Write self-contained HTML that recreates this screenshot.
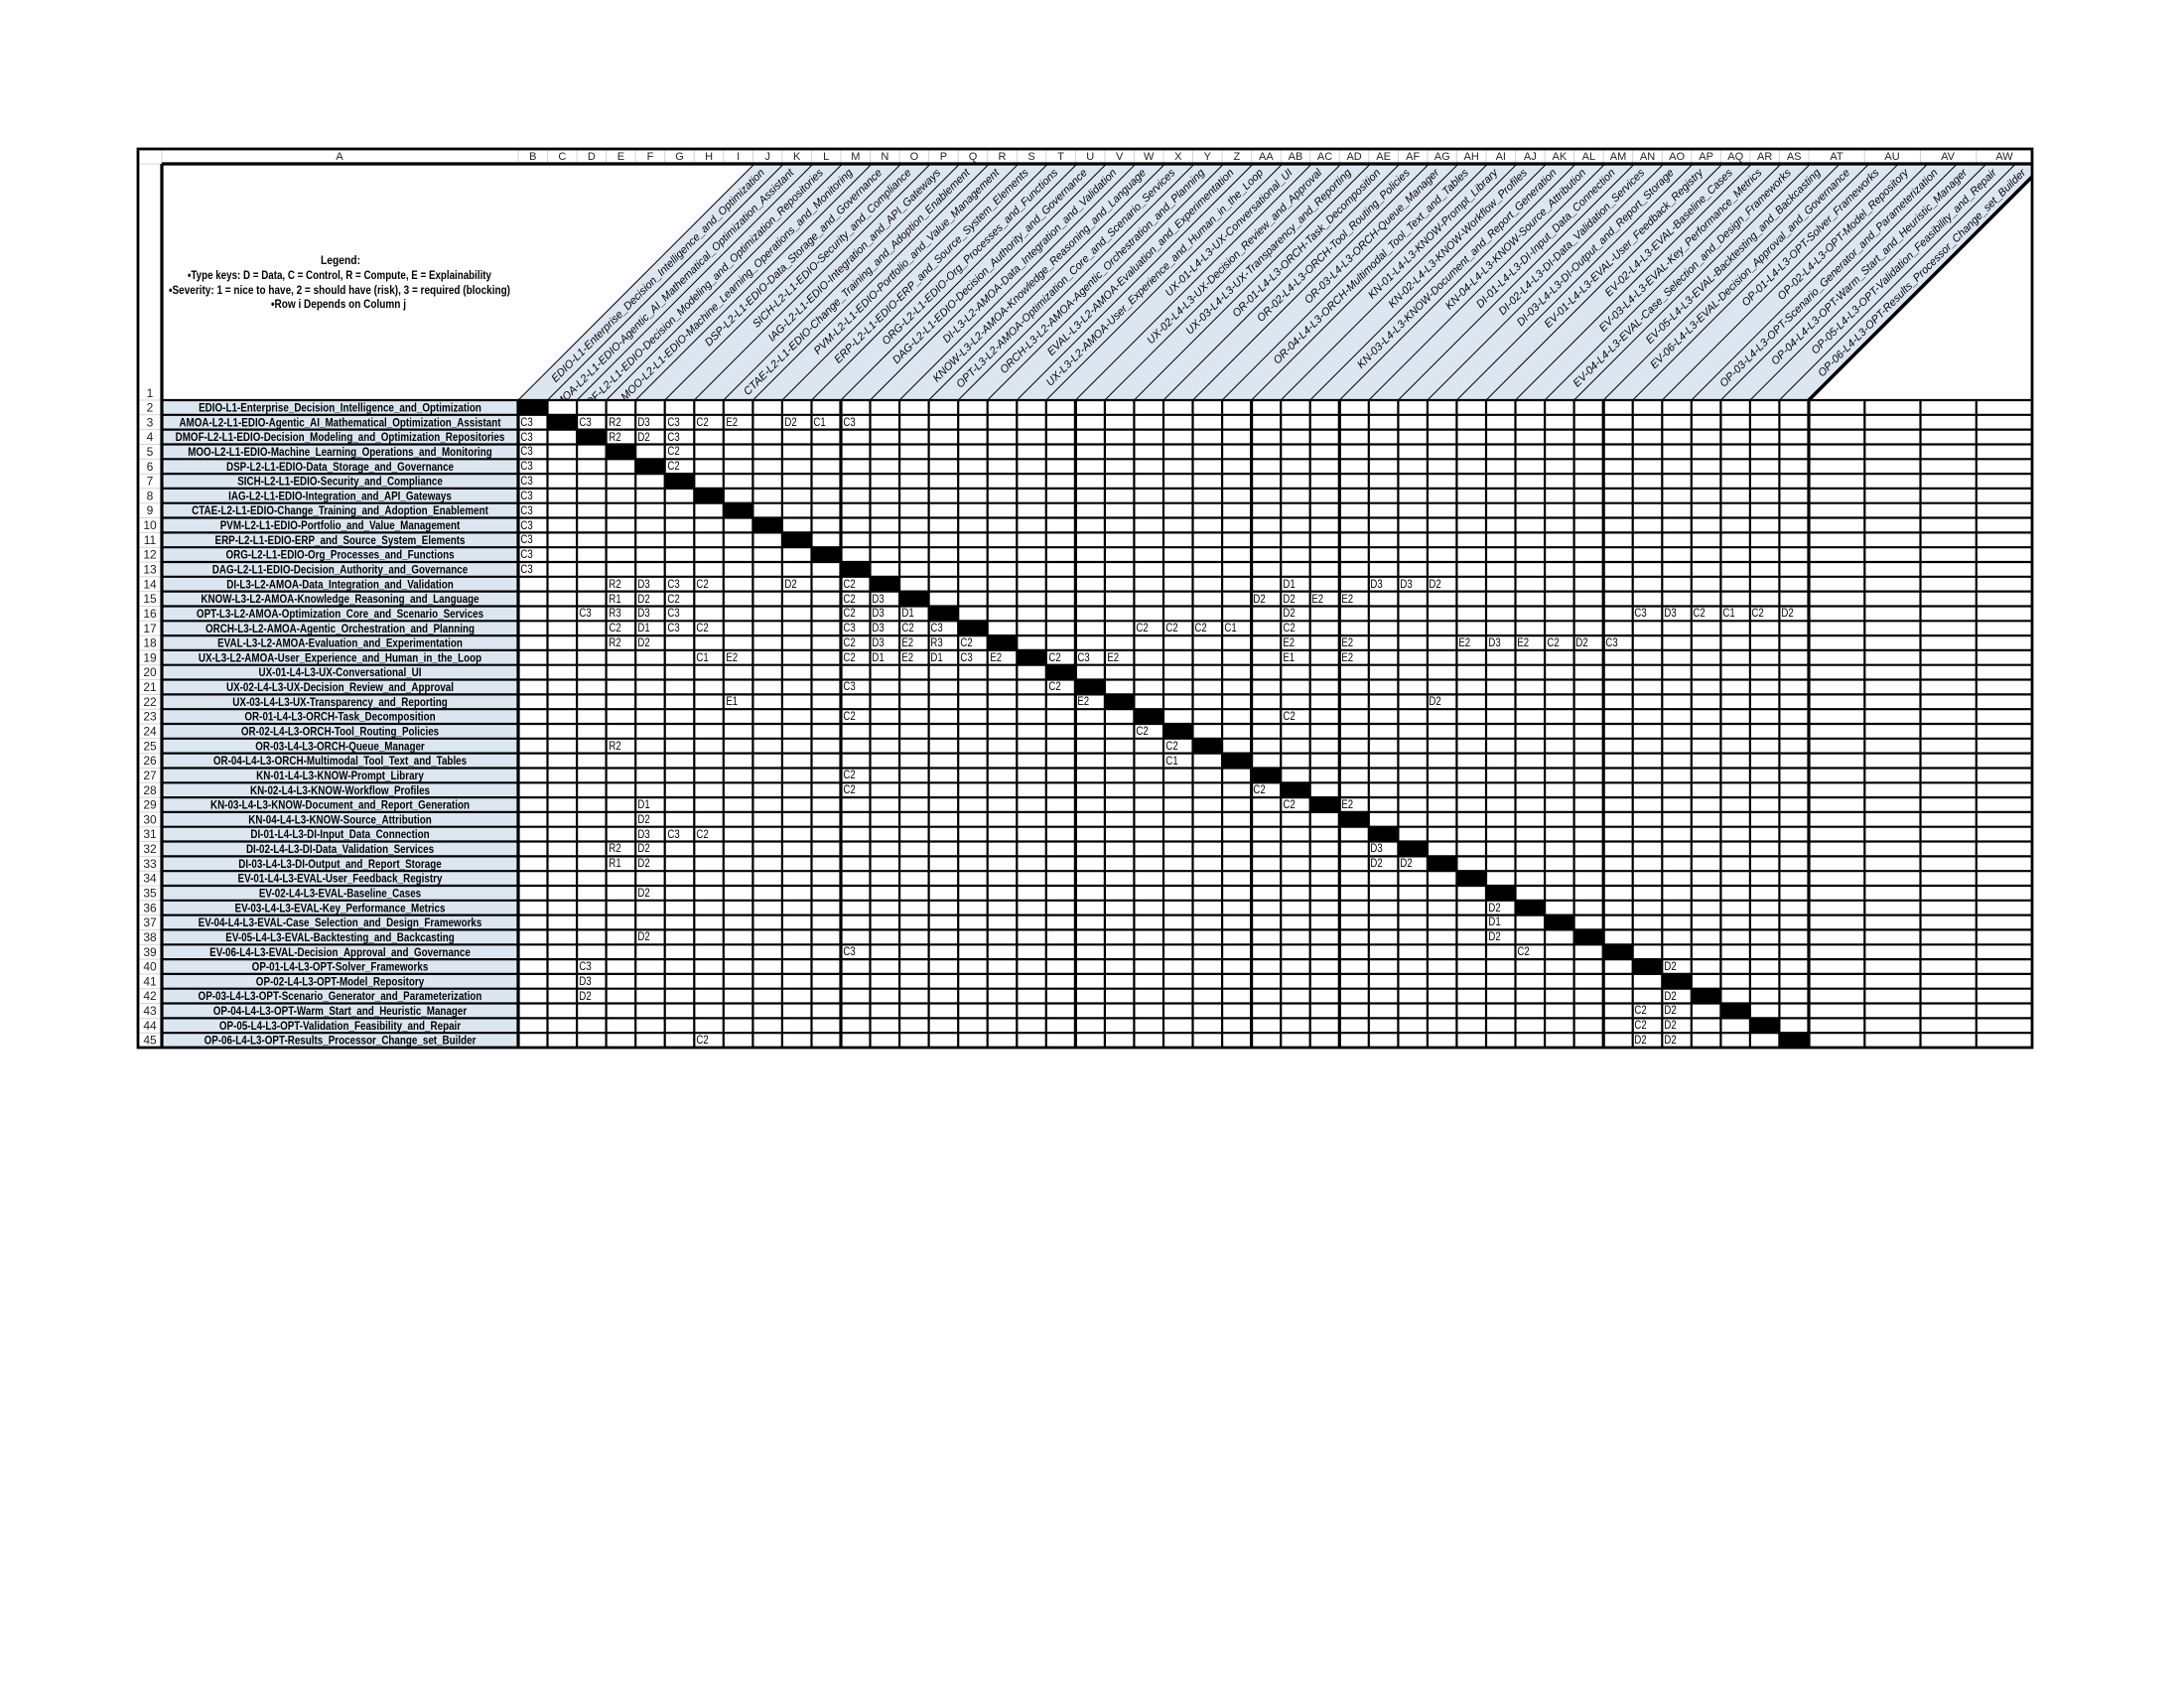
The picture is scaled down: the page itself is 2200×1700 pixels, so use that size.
<!DOCTYPE html>
<html><head><meta charset="utf-8">
<style>
html,body{margin:0;padding:0;background:#fff;}
#wrap{position:relative;width:2200px;height:1700px;overflow:hidden;}
svg{position:absolute;left:0;top:0;}
#g{position:absolute;left:522px;top:403px;width:1300px;height:652px;display:grid;grid-template-columns:repeat(44,29.545px);grid-template-rows:repeat(44,14.818px);z-index:1;}
#g b{background:#000;display:block;}
#g i{font-style:normal;font-family:"Liberation Sans Narrow","Liberation Sans",sans-serif;font-size:12px;line-height:15px;padding-left:3px;display:block;transform:scaleX(.8);transform-origin:0 0;white-space:nowrap;}
</style></head><body><div id="wrap">
<svg width="2200" height="1700" style="z-index:0" font-family="Liberation Sans, sans-serif">
<defs><clipPath id="r1"><rect x="163" y="166" width="1884" height="237"/></clipPath></defs>
<rect x="163" y="403" width="359" height="652" fill="#dce6f1"/>
<polygon points="522,403 760,165 2047,165 2047,178 1822,403" fill="#dce6f1"/>
<g font-size="11" text-anchor="middle" fill="#222">
<text x="342" y="161">A</text>
<text x="536.8" y="161">B</text><text x="566.3" y="161">C</text><text x="595.9" y="161">D</text><text x="625.4" y="161">E</text><text x="655.0" y="161">F</text><text x="684.5" y="161">G</text><text x="714.1" y="161">H</text><text x="743.6" y="161">I</text><text x="773.2" y="161">J</text><text x="802.7" y="161">K</text><text x="832.2" y="161">L</text><text x="861.8" y="161">M</text><text x="891.3" y="161">N</text><text x="920.9" y="161">O</text><text x="950.4" y="161">P</text><text x="980.0" y="161">Q</text><text x="1009.5" y="161">R</text><text x="1039.1" y="161">S</text><text x="1068.6" y="161">T</text><text x="1098.2" y="161">U</text><text x="1127.7" y="161">V</text><text x="1157.2" y="161">W</text><text x="1186.8" y="161">X</text><text x="1216.3" y="161">Y</text><text x="1245.9" y="161">Z</text><text x="1275.4" y="161">AA</text><text x="1305.0" y="161">AB</text><text x="1334.5" y="161">AC</text><text x="1364.1" y="161">AD</text><text x="1393.6" y="161">AE</text><text x="1423.2" y="161">AF</text><text x="1452.7" y="161">AG</text><text x="1482.2" y="161">AH</text><text x="1511.8" y="161">AI</text><text x="1541.3" y="161">AJ</text><text x="1570.9" y="161">AK</text><text x="1600.4" y="161">AL</text><text x="1630.0" y="161">AM</text><text x="1659.5" y="161">AN</text><text x="1689.1" y="161">AO</text><text x="1718.6" y="161">AP</text><text x="1748.2" y="161">AQ</text><text x="1777.7" y="161">AR</text><text x="1807.2" y="161">AS</text><text x="1850" y="161">AT</text><text x="1906" y="161">AU</text><text x="1962" y="161">AV</text><text x="2019" y="161">AW</text>
</g>
<g font-size="12" font-weight="bold" text-anchor="middle">
<text x="343" y="266" textLength="40" lengthAdjust="spacingAndGlyphs">Legend:</text>
<text x="342" y="281" textLength="306" lengthAdjust="spacingAndGlyphs">•Type keys: D = Data, C = Control, R = Compute, E = Explainability</text>
<text x="342" y="296" textLength="344" lengthAdjust="spacingAndGlyphs">•Severity: 1 = nice to have, 2 = should have (risk), 3 = required (blocking)</text>
<text x="341" y="310" textLength="136" lengthAdjust="spacingAndGlyphs">•Row i Depends on Column j</text>
</g>
<g font-size="12" text-anchor="middle" fill="#222">
<text x="151" y="400">1</text>
<text x="151" y="414.5">2</text><text x="151" y="429.3">3</text><text x="151" y="444.1">4</text><text x="151" y="459.0">5</text><text x="151" y="473.8">6</text><text x="151" y="488.6">7</text><text x="151" y="503.4">8</text><text x="151" y="518.2">9</text><text x="151" y="533.0">10</text><text x="151" y="547.9">11</text><text x="151" y="562.7">12</text><text x="151" y="577.5">13</text><text x="151" y="592.3">14</text><text x="151" y="607.1">15</text><text x="151" y="622.0">16</text><text x="151" y="636.8">17</text><text x="151" y="651.6">18</text><text x="151" y="666.4">19</text><text x="151" y="681.2">20</text><text x="151" y="696.0">21</text><text x="151" y="710.9">22</text><text x="151" y="725.7">23</text><text x="151" y="740.5">24</text><text x="151" y="755.3">25</text><text x="151" y="770.1">26</text><text x="151" y="785.0">27</text><text x="151" y="799.8">28</text><text x="151" y="814.6">29</text><text x="151" y="829.4">30</text><text x="151" y="844.2">31</text><text x="151" y="859.0">32</text><text x="151" y="873.9">33</text><text x="151" y="888.7">34</text><text x="151" y="903.5">35</text><text x="151" y="918.3">36</text><text x="151" y="933.1">37</text><text x="151" y="947.9">38</text><text x="151" y="962.8">39</text><text x="151" y="977.6">40</text><text x="151" y="992.4">41</text><text x="151" y="1007.2">42</text><text x="151" y="1022.0">43</text><text x="151" y="1036.9">44</text><text x="151" y="1051.7">45</text>
</g>
<g font-size="12" font-weight="bold" text-anchor="middle">
<text transform="translate(342.5,414.5) scale(0.82,1)">EDIO-L1-Enterprise_Decision_Intelligence_and_Optimization</text>
<text transform="translate(342.5,429.3) scale(0.82,1)">AMOA-L2-L1-EDIO-Agentic_AI_Mathematical_Optimization_Assistant</text>
<text transform="translate(342.5,444.1) scale(0.82,1)">DMOF-L2-L1-EDIO-Decision_Modeling_and_Optimization_Repositories</text>
<text transform="translate(342.5,459.0) scale(0.82,1)">MOO-L2-L1-EDIO-Machine_Learning_Operations_and_Monitoring</text>
<text transform="translate(342.5,473.8) scale(0.82,1)">DSP-L2-L1-EDIO-Data_Storage_and_Governance</text>
<text transform="translate(342.5,488.6) scale(0.82,1)">SICH-L2-L1-EDIO-Security_and_Compliance</text>
<text transform="translate(342.5,503.4) scale(0.82,1)">IAG-L2-L1-EDIO-Integration_and_API_Gateways</text>
<text transform="translate(342.5,518.2) scale(0.82,1)">CTAE-L2-L1-EDIO-Change_Training_and_Adoption_Enablement</text>
<text transform="translate(342.5,533.0) scale(0.82,1)">PVM-L2-L1-EDIO-Portfolio_and_Value_Management</text>
<text transform="translate(342.5,547.9) scale(0.82,1)">ERP-L2-L1-EDIO-ERP_and_Source_System_Elements</text>
<text transform="translate(342.5,562.7) scale(0.82,1)">ORG-L2-L1-EDIO-Org_Processes_and_Functions</text>
<text transform="translate(342.5,577.5) scale(0.82,1)">DAG-L2-L1-EDIO-Decision_Authority_and_Governance</text>
<text transform="translate(342.5,592.3) scale(0.82,1)">DI-L3-L2-AMOA-Data_Integration_and_Validation</text>
<text transform="translate(342.5,607.1) scale(0.82,1)">KNOW-L3-L2-AMOA-Knowledge_Reasoning_and_Language</text>
<text transform="translate(342.5,622.0) scale(0.82,1)">OPT-L3-L2-AMOA-Optimization_Core_and_Scenario_Services</text>
<text transform="translate(342.5,636.8) scale(0.82,1)">ORCH-L3-L2-AMOA-Agentic_Orchestration_and_Planning</text>
<text transform="translate(342.5,651.6) scale(0.82,1)">EVAL-L3-L2-AMOA-Evaluation_and_Experimentation</text>
<text transform="translate(342.5,666.4) scale(0.82,1)">UX-L3-L2-AMOA-User_Experience_and_Human_in_the_Loop</text>
<text transform="translate(342.5,681.2) scale(0.82,1)">UX-01-L4-L3-UX-Conversational_UI</text>
<text transform="translate(342.5,696.0) scale(0.82,1)">UX-02-L4-L3-UX-Decision_Review_and_Approval</text>
<text transform="translate(342.5,710.9) scale(0.82,1)">UX-03-L4-L3-UX-Transparency_and_Reporting</text>
<text transform="translate(342.5,725.7) scale(0.82,1)">OR-01-L4-L3-ORCH-Task_Decomposition</text>
<text transform="translate(342.5,740.5) scale(0.82,1)">OR-02-L4-L3-ORCH-Tool_Routing_Policies</text>
<text transform="translate(342.5,755.3) scale(0.82,1)">OR-03-L4-L3-ORCH-Queue_Manager</text>
<text transform="translate(342.5,770.1) scale(0.82,1)">OR-04-L4-L3-ORCH-Multimodal_Tool_Text_and_Tables</text>
<text transform="translate(342.5,785.0) scale(0.82,1)">KN-01-L4-L3-KNOW-Prompt_Library</text>
<text transform="translate(342.5,799.8) scale(0.82,1)">KN-02-L4-L3-KNOW-Workflow_Profiles</text>
<text transform="translate(342.5,814.6) scale(0.82,1)">KN-03-L4-L3-KNOW-Document_and_Report_Generation</text>
<text transform="translate(342.5,829.4) scale(0.82,1)">KN-04-L4-L3-KNOW-Source_Attribution</text>
<text transform="translate(342.5,844.2) scale(0.82,1)">DI-01-L4-L3-DI-Input_Data_Connection</text>
<text transform="translate(342.5,859.0) scale(0.82,1)">DI-02-L4-L3-DI-Data_Validation_Services</text>
<text transform="translate(342.5,873.9) scale(0.82,1)">DI-03-L4-L3-DI-Output_and_Report_Storage</text>
<text transform="translate(342.5,888.7) scale(0.82,1)">EV-01-L4-L3-EVAL-User_Feedback_Registry</text>
<text transform="translate(342.5,903.5) scale(0.82,1)">EV-02-L4-L3-EVAL-Baseline_Cases</text>
<text transform="translate(342.5,918.3) scale(0.82,1)">EV-03-L4-L3-EVAL-Key_Performance_Metrics</text>
<text transform="translate(342.5,933.1) scale(0.82,1)">EV-04-L4-L3-EVAL-Case_Selection_and_Design_Frameworks</text>
<text transform="translate(342.5,947.9) scale(0.82,1)">EV-05-L4-L3-EVAL-Backtesting_and_Backcasting</text>
<text transform="translate(342.5,962.8) scale(0.82,1)">EV-06-L4-L3-EVAL-Decision_Approval_and_Governance</text>
<text transform="translate(342.5,977.6) scale(0.82,1)">OP-01-L4-L3-OPT-Solver_Frameworks</text>
<text transform="translate(342.5,992.4) scale(0.82,1)">OP-02-L4-L3-OPT-Model_Repository</text>
<text transform="translate(342.5,1007.2) scale(0.82,1)">OP-03-L4-L3-OPT-Scenario_Generator_and_Parameterization</text>
<text transform="translate(342.5,1022.0) scale(0.82,1)">OP-04-L4-L3-OPT-Warm_Start_and_Heuristic_Manager</text>
<text transform="translate(342.5,1036.9) scale(0.82,1)">OP-05-L4-L3-OPT-Validation_Feasibility_and_Repair</text>
<text transform="translate(342.5,1051.7) scale(0.82,1)">OP-06-L4-L3-OPT-Results_Processor_Change_set_Builder</text>
</g>
<g clip-path="url(#r1)" font-size="11" font-style="italic" text-anchor="end">
<text transform="translate(536.8,403) rotate(-45)" x="327" y="3.8">EDIO-L1-Enterprise_Decision_Intelligence_and_Optimization</text>
<text transform="translate(566.3,403) rotate(-45)" x="327" y="3.8">AMOA-L2-L1-EDIO-Agentic_AI_Mathematical_Optimization_Assistant</text>
<text transform="translate(595.9,403) rotate(-45)" x="327" y="3.8">DMOF-L2-L1-EDIO-Decision_Modeling_and_Optimization_Repositories</text>
<text transform="translate(625.4,403) rotate(-45)" x="327" y="3.8">MOO-L2-L1-EDIO-Machine_Learning_Operations_and_Monitoring</text>
<text transform="translate(655.0,403) rotate(-45)" x="327" y="3.8">DSP-L2-L1-EDIO-Data_Storage_and_Governance</text>
<text transform="translate(684.5,403) rotate(-45)" x="327" y="3.8">SICH-L2-L1-EDIO-Security_and_Compliance</text>
<text transform="translate(714.1,403) rotate(-45)" x="327" y="3.8">IAG-L2-L1-EDIO-Integration_and_API_Gateways</text>
<text transform="translate(743.6,403) rotate(-45)" x="327" y="3.8">CTAE-L2-L1-EDIO-Change_Training_and_Adoption_Enablement</text>
<text transform="translate(773.2,403) rotate(-45)" x="327" y="3.8">PVM-L2-L1-EDIO-Portfolio_and_Value_Management</text>
<text transform="translate(802.7,403) rotate(-45)" x="327" y="3.8">ERP-L2-L1-EDIO-ERP_and_Source_System_Elements</text>
<text transform="translate(832.2,403) rotate(-45)" x="327" y="3.8">ORG-L2-L1-EDIO-Org_Processes_and_Functions</text>
<text transform="translate(861.8,403) rotate(-45)" x="327" y="3.8">DAG-L2-L1-EDIO-Decision_Authority_and_Governance</text>
<text transform="translate(891.3,403) rotate(-45)" x="327" y="3.8">DI-L3-L2-AMOA-Data_Integration_and_Validation</text>
<text transform="translate(920.9,403) rotate(-45)" x="327" y="3.8">KNOW-L3-L2-AMOA-Knowledge_Reasoning_and_Language</text>
<text transform="translate(950.4,403) rotate(-45)" x="327" y="3.8">OPT-L3-L2-AMOA-Optimization_Core_and_Scenario_Services</text>
<text transform="translate(980.0,403) rotate(-45)" x="327" y="3.8">ORCH-L3-L2-AMOA-Agentic_Orchestration_and_Planning</text>
<text transform="translate(1009.5,403) rotate(-45)" x="327" y="3.8">EVAL-L3-L2-AMOA-Evaluation_and_Experimentation</text>
<text transform="translate(1039.1,403) rotate(-45)" x="327" y="3.8">UX-L3-L2-AMOA-User_Experience_and_Human_in_the_Loop</text>
<text transform="translate(1068.6,403) rotate(-45)" x="327" y="3.8">UX-01-L4-L3-UX-Conversational_UI</text>
<text transform="translate(1098.2,403) rotate(-45)" x="327" y="3.8">UX-02-L4-L3-UX-Decision_Review_and_Approval</text>
<text transform="translate(1127.7,403) rotate(-45)" x="327" y="3.8">UX-03-L4-L3-UX-Transparency_and_Reporting</text>
<text transform="translate(1157.2,403) rotate(-45)" x="327" y="3.8">OR-01-L4-L3-ORCH-Task_Decomposition</text>
<text transform="translate(1186.8,403) rotate(-45)" x="327" y="3.8">OR-02-L4-L3-ORCH-Tool_Routing_Policies</text>
<text transform="translate(1216.3,403) rotate(-45)" x="327" y="3.8">OR-03-L4-L3-ORCH-Queue_Manager</text>
<text transform="translate(1245.9,403) rotate(-45)" x="327" y="3.8">OR-04-L4-L3-ORCH-Multimodal_Tool_Text_and_Tables</text>
<text transform="translate(1275.4,403) rotate(-45)" x="327" y="3.8">KN-01-L4-L3-KNOW-Prompt_Library</text>
<text transform="translate(1305.0,403) rotate(-45)" x="327" y="3.8">KN-02-L4-L3-KNOW-Workflow_Profiles</text>
<text transform="translate(1334.5,403) rotate(-45)" x="327" y="3.8">KN-03-L4-L3-KNOW-Document_and_Report_Generation</text>
<text transform="translate(1364.1,403) rotate(-45)" x="327" y="3.8">KN-04-L4-L3-KNOW-Source_Attribution</text>
<text transform="translate(1393.6,403) rotate(-45)" x="327" y="3.8">DI-01-L4-L3-DI-Input_Data_Connection</text>
<text transform="translate(1423.2,403) rotate(-45)" x="327" y="3.8">DI-02-L4-L3-DI-Data_Validation_Services</text>
<text transform="translate(1452.7,403) rotate(-45)" x="327" y="3.8">DI-03-L4-L3-DI-Output_and_Report_Storage</text>
<text transform="translate(1482.2,403) rotate(-45)" x="327" y="3.8">EV-01-L4-L3-EVAL-User_Feedback_Registry</text>
<text transform="translate(1511.8,403) rotate(-45)" x="327" y="3.8">EV-02-L4-L3-EVAL-Baseline_Cases</text>
<text transform="translate(1541.3,403) rotate(-45)" x="327" y="3.8">EV-03-L4-L3-EVAL-Key_Performance_Metrics</text>
<text transform="translate(1570.9,403) rotate(-45)" x="327" y="3.8">EV-04-L4-L3-EVAL-Case_Selection_and_Design_Frameworks</text>
<text transform="translate(1600.4,403) rotate(-45)" x="327" y="3.8">EV-05-L4-L3-EVAL-Backtesting_and_Backcasting</text>
<text transform="translate(1630.0,403) rotate(-45)" x="327" y="3.8">EV-06-L4-L3-EVAL-Decision_Approval_and_Governance</text>
<text transform="translate(1659.5,403) rotate(-45)" x="327" y="3.8">OP-01-L4-L3-OPT-Solver_Frameworks</text>
<text transform="translate(1689.1,403) rotate(-45)" x="327" y="3.8">OP-02-L4-L3-OPT-Model_Repository</text>
<text transform="translate(1718.6,403) rotate(-45)" x="327" y="3.8">OP-03-L4-L3-OPT-Scenario_Generator_and_Parameterization</text>
<text transform="translate(1748.2,403) rotate(-45)" x="327" y="3.8">OP-04-L4-L3-OPT-Warm_Start_and_Heuristic_Manager</text>
<text transform="translate(1777.7,403) rotate(-45)" x="327" y="3.8">OP-05-L4-L3-OPT-Validation_Feasibility_and_Repair</text>
<text transform="translate(1807.2,403) rotate(-45)" x="327" y="3.8">OP-06-L4-L3-OPT-Results_Processor_Change_set_Builder</text>
</g>
</svg>

<div id="g">
<b style="grid-area:1/1"></b><b style="grid-area:2/2"></b><b style="grid-area:3/3"></b><b style="grid-area:4/4"></b><b style="grid-area:5/5"></b><b style="grid-area:6/6"></b><b style="grid-area:7/7"></b><b style="grid-area:8/8"></b><b style="grid-area:9/9"></b><b style="grid-area:10/10"></b><b style="grid-area:11/11"></b><b style="grid-area:12/12"></b><b style="grid-area:13/13"></b><b style="grid-area:14/14"></b><b style="grid-area:15/15"></b><b style="grid-area:16/16"></b><b style="grid-area:17/17"></b><b style="grid-area:18/18"></b><b style="grid-area:19/19"></b><b style="grid-area:20/20"></b><b style="grid-area:21/21"></b><b style="grid-area:22/22"></b><b style="grid-area:23/23"></b><b style="grid-area:24/24"></b><b style="grid-area:25/25"></b><b style="grid-area:26/26"></b><b style="grid-area:27/27"></b><b style="grid-area:28/28"></b><b style="grid-area:29/29"></b><b style="grid-area:30/30"></b><b style="grid-area:31/31"></b><b style="grid-area:32/32"></b><b style="grid-area:33/33"></b><b style="grid-area:34/34"></b><b style="grid-area:35/35"></b><b style="grid-area:36/36"></b><b style="grid-area:37/37"></b><b style="grid-area:38/38"></b><b style="grid-area:39/39"></b><b style="grid-area:40/40"></b><b style="grid-area:41/41"></b><b style="grid-area:42/42"></b><b style="grid-area:43/43"></b><b style="grid-area:44/44"></b>
<i style="grid-area:2/1">C3</i><i style="grid-area:2/3">C3</i><i style="grid-area:2/4">R2</i><i style="grid-area:2/5">D3</i><i style="grid-area:2/6">C3</i><i style="grid-area:2/7">C2</i><i style="grid-area:2/8">E2</i><i style="grid-area:2/10">D2</i><i style="grid-area:2/11">C1</i><i style="grid-area:2/12">C3</i>
<i style="grid-area:3/1">C3</i><i style="grid-area:3/4">R2</i><i style="grid-area:3/5">D2</i><i style="grid-area:3/6">C3</i>
<i style="grid-area:4/1">C3</i><i style="grid-area:4/6">C2</i>
<i style="grid-area:5/1">C3</i><i style="grid-area:5/6">C2</i>
<i style="grid-area:6/1">C3</i><i style="grid-area:7/1">C3</i><i style="grid-area:8/1">C3</i><i style="grid-area:9/1">C3</i><i style="grid-area:10/1">C3</i><i style="grid-area:11/1">C3</i><i style="grid-area:12/1">C3</i>
<i style="grid-area:13/4">R2</i><i style="grid-area:13/5">D3</i><i style="grid-area:13/6">C3</i><i style="grid-area:13/7">C2</i><i style="grid-area:13/10">D2</i><i style="grid-area:13/12">C2</i><i style="grid-area:13/27">D1</i><i style="grid-area:13/30">D3</i><i style="grid-area:13/31">D3</i><i style="grid-area:13/32">D2</i>
<i style="grid-area:14/4">R1</i><i style="grid-area:14/5">D2</i><i style="grid-area:14/6">C2</i><i style="grid-area:14/12">C2</i><i style="grid-area:14/13">D3</i><i style="grid-area:14/26">D2</i><i style="grid-area:14/27">D2</i><i style="grid-area:14/28">E2</i><i style="grid-area:14/29">E2</i>
<i style="grid-area:15/3">C3</i><i style="grid-area:15/4">R3</i><i style="grid-area:15/5">D3</i><i style="grid-area:15/6">C3</i><i style="grid-area:15/12">C2</i><i style="grid-area:15/13">D3</i><i style="grid-area:15/14">D1</i><i style="grid-area:15/27">D2</i><i style="grid-area:15/39">C3</i><i style="grid-area:15/40">D3</i><i style="grid-area:15/41">C2</i><i style="grid-area:15/42">C1</i><i style="grid-area:15/43">C2</i><i style="grid-area:15/44">D2</i>
<i style="grid-area:16/4">C2</i><i style="grid-area:16/5">D1</i><i style="grid-area:16/6">C3</i><i style="grid-area:16/7">C2</i><i style="grid-area:16/12">C3</i><i style="grid-area:16/13">D3</i><i style="grid-area:16/14">C2</i><i style="grid-area:16/15">C3</i><i style="grid-area:16/22">C2</i><i style="grid-area:16/23">C2</i><i style="grid-area:16/24">C2</i><i style="grid-area:16/25">C1</i><i style="grid-area:16/27">C2</i>
<i style="grid-area:17/4">R2</i><i style="grid-area:17/5">D2</i><i style="grid-area:17/12">C2</i><i style="grid-area:17/13">D3</i><i style="grid-area:17/14">E2</i><i style="grid-area:17/15">R3</i><i style="grid-area:17/16">C2</i><i style="grid-area:17/27">E2</i><i style="grid-area:17/29">E2</i><i style="grid-area:17/33">E2</i><i style="grid-area:17/34">D3</i><i style="grid-area:17/35">E2</i><i style="grid-area:17/36">C2</i><i style="grid-area:17/37">D2</i><i style="grid-area:17/38">C3</i>
<i style="grid-area:18/7">C1</i><i style="grid-area:18/8">E2</i><i style="grid-area:18/12">C2</i><i style="grid-area:18/13">D1</i><i style="grid-area:18/14">E2</i><i style="grid-area:18/15">D1</i><i style="grid-area:18/16">C3</i><i style="grid-area:18/17">E2</i><i style="grid-area:18/19">C2</i><i style="grid-area:18/20">C3</i><i style="grid-area:18/21">E2</i><i style="grid-area:18/27">E1</i><i style="grid-area:18/29">E2</i>
<i style="grid-area:20/12">C3</i><i style="grid-area:20/19">C2</i>
<i style="grid-area:21/8">E1</i><i style="grid-area:21/20">E2</i><i style="grid-area:21/32">D2</i>
<i style="grid-area:22/12">C2</i><i style="grid-area:22/27">C2</i>
<i style="grid-area:23/22">C2</i>
<i style="grid-area:24/4">R2</i><i style="grid-area:24/23">C2</i>
<i style="grid-area:25/23">C1</i>
<i style="grid-area:26/12">C2</i>
<i style="grid-area:27/12">C2</i><i style="grid-area:27/26">C2</i>
<i style="grid-area:28/5">D1</i><i style="grid-area:28/27">C2</i><i style="grid-area:28/29">E2</i>
<i style="grid-area:29/5">D2</i>
<i style="grid-area:30/5">D3</i><i style="grid-area:30/6">C3</i><i style="grid-area:30/7">C2</i>
<i style="grid-area:31/4">R2</i><i style="grid-area:31/5">D2</i><i style="grid-area:31/30">D3</i>
<i style="grid-area:32/4">R1</i><i style="grid-area:32/5">D2</i><i style="grid-area:32/30">D2</i><i style="grid-area:32/31">D2</i>
<i style="grid-area:34/5">D2</i>
<i style="grid-area:35/34">D2</i>
<i style="grid-area:36/34">D1</i>
<i style="grid-area:37/5">D2</i><i style="grid-area:37/34">D2</i>
<i style="grid-area:38/12">C3</i><i style="grid-area:38/35">C2</i>
<i style="grid-area:39/3">C3</i><i style="grid-area:39/40">D2</i>
<i style="grid-area:40/3">D3</i>
<i style="grid-area:41/3">D2</i><i style="grid-area:41/40">D2</i>
<i style="grid-area:42/39">C2</i><i style="grid-area:42/40">D2</i>
<i style="grid-area:43/39">C2</i><i style="grid-area:43/40">D2</i>
<i style="grid-area:44/7">C2</i><i style="grid-area:44/39">D2</i><i style="grid-area:44/40">D2</i>
</div>

<svg width="2200" height="1700" style="z-index:2" fill="none">
<g stroke="#d4d4d4" stroke-width="1">
<path d="M163 150V165M522 150V165M551.5 150V165M581.1 150V165M610.6 150V165M640.2 150V165M669.7 150V165M699.3 150V165M728.8 150V165M758.4 150V165M787.9 150V165M817.5 150V165M847 150V165M876.5 150V165M906.1 150V165M935.6 150V165M965.2 150V165M994.7 150V165M1024.3 150V165M1053.8 150V165M1083.4 150V165M1112.9 150V165M1142.4 150V165M1172 150V165M1201.5 150V165M1231.1 150V165M1260.6 150V165M1290.2 150V165M1319.7 150V165M1349.3 150V165M1378.8 150V165M1408.4 150V165M1437.9 150V165M1467.4 150V165M1497 150V165M1526.5 150V165M1556.1 150V165M1585.6 150V165M1615.2 150V165M1644.7 150V165M1674.3 150V165M1703.8 150V165M1733.4 150V165M1762.9 150V165M1792.4 150V165M1822 150V165M1878.3 150V165M1934.5 150V165M1990.8 150V165"/>
<path d="M139 403H163M139 417.8H163M139 432.6H163M139 447.5H163M139 462.3H163M139 477.1H163M139 491.9H163M139 506.7H163M139 521.5H163M139 536.4H163M139 551.2H163M139 566H163M139 580.8H163M139 595.6H163M139 610.5H163M139 625.3H163M139 640.1H163M139 654.9H163M139 669.7H163M139 684.5H163M139 699.4H163M139 714.2H163M139 729H163M139 743.8H163M139 758.6H163M139 773.5H163M139 788.3H163M139 803.1H163M139 817.9H163M139 832.7H163M139 847.5H163M139 862.4H163M139 877.2H163M139 892H163M139 906.8H163M139 921.6H163M139 936.4H163M139 951.3H163M139 966.1H163M139 980.9H163M139 995.7H163M139 1010.5H163M139 1025.4H163M139 1040.2H163M139 165H163"/>
</g>
<g stroke="#000" stroke-width="1">
<path d="M522 403L760 165M551.5 403L789.5 165M581.1 403L819.1 165M610.6 403L848.6 165M640.2 403L878.2 165M669.7 403L907.7 165M699.3 403L937.3 165M728.8 403L966.8 165M758.4 403L996.4 165M787.9 403L1025.9 165M817.5 403L1055.5 165M847 403L1085 165M876.5 403L1114.5 165M906.1 403L1144.1 165M935.6 403L1173.6 165M965.2 403L1203.2 165M994.7 403L1232.7 165M1024.3 403L1262.3 165M1053.8 403L1291.8 165M1083.4 403L1321.4 165M1112.9 403L1350.9 165M1142.4 403L1380.4 165M1172 403L1410 165M1201.5 403L1439.5 165M1231.1 403L1469.1 165M1260.6 403L1498.6 165M1290.2 403L1528.2 165M1319.7 403L1557.7 165M1349.3 403L1587.3 165M1378.8 403L1616.8 165M1408.4 403L1646.4 165M1437.9 403L1675.9 165M1467.4 403L1705.4 165M1497 403L1735 165M1526.5 403L1764.5 165M1556.1 403L1794.1 165M1585.6 403L1823.6 165M1615.2 403L1853.2 165M1644.7 403L1882.7 165M1674.3 403L1912.3 165M1703.8 403L1941.8 165M1733.4 403L1971.4 165M1762.9 403L2000.9 165M1792.4 403L2030.4 165"/>
</g>
<path d="M1822 403L2047 178" stroke="#000" stroke-width="3.5"/>
<g stroke="#000" stroke-width="2.2">
<path d="M163 403H2047M163 417.8H2047M163 432.6H2047M163 447.5H2047M163 462.3H2047M163 477.1H2047M163 491.9H2047M163 506.7H2047M163 521.5H2047M163 536.4H2047M163 551.2H2047M163 566H2047M163 580.8H2047M163 595.6H2047M163 610.5H2047M163 625.3H2047M163 640.1H2047M163 654.9H2047M163 669.7H2047M163 684.5H2047M163 699.4H2047M163 714.2H2047M163 729H2047M163 743.8H2047M163 758.6H2047M163 773.5H2047M163 788.3H2047M163 803.1H2047M163 817.9H2047M163 832.7H2047M163 847.5H2047M163 862.4H2047M163 877.2H2047M163 892H2047M163 906.8H2047M163 921.6H2047M163 936.4H2047M163 951.3H2047M163 966.1H2047M163 980.9H2047M163 995.7H2047M163 1010.5H2047M163 1025.4H2047M163 1040.2H2047"/>
<path d="M551.5 403V1055M581.1 403V1055M610.6 403V1055M640.2 403V1055M669.7 403V1055M699.3 403V1055M728.8 403V1055M758.4 403V1055M787.9 403V1055M817.5 403V1055M876.5 403V1055M906.1 403V1055M935.6 403V1055M965.2 403V1055M994.7 403V1055M1024.3 403V1055M1053.8 403V1055M1112.9 403V1055M1142.4 403V1055M1172 403V1055M1201.5 403V1055M1231.1 403V1055M1290.2 403V1055M1319.7 403V1055M1378.8 403V1055M1408.4 403V1055M1437.9 403V1055M1467.4 403V1055M1497 403V1055M1526.5 403V1055M1556.1 403V1055M1585.6 403V1055M1644.7 403V1055M1674.3 403V1055M1703.8 403V1055M1733.4 403V1055M1762.9 403V1055M1792.4 403V1055M1878.3 403V1055M1934.5 403V1055M1990.8 403V1055"/>
</g>
<g stroke="#000" stroke-width="3.2">
<path d="M522 403V1055M847 403V1055M1083.4 403V1055M1260.6 403V1055M1349.3 403V1055M1615.2 403V1055M1822 403V1055M163 165V1055M163 165H2047"/>
</g>
<rect x="139" y="150" width="1908" height="905" stroke="#000" stroke-width="2.8"/>
</svg>
</div></body></html>
